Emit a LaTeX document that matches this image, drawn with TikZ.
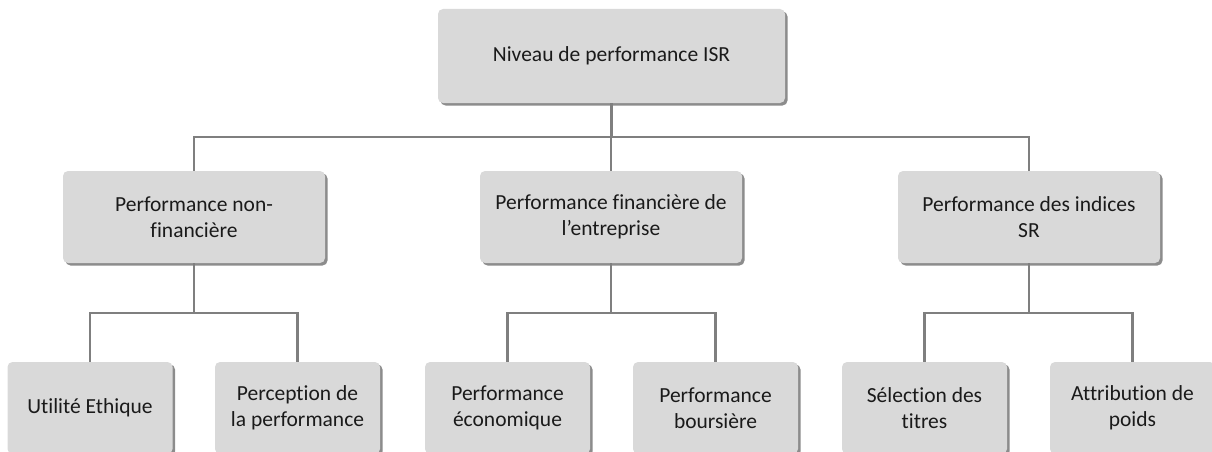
\documentclass[tikz,border=0pt]{standalone}
\usepackage{fontspec}
\setmainfont[RawFeature={-liga;-clig;-calt;-dlig}]{Carlito}
\usetikzlibrary{shadows,calc}
\definecolor{boxfill}{HTML}{D9D9D9}
\definecolor{linecol}{HTML}{7F7F7F}
\definecolor{shadecol}{HTML}{8C8C8C}
\definecolor{txtcol}{HTML}{1A1A1A}
\tikzset{
  box/.style={draw=none, fill=boxfill, rounded corners=5pt, align=center,
    text=txtcol, font=\fontsize{21.5}{25.5}\selectfont, inner sep=0pt,
    drop shadow={shadow xshift=2.5pt, shadow yshift=-2.5pt, fill=shadecol, opacity=1}},
  topbox/.style={box, minimum width=347pt, minimum height=94pt},
  midbox/.style={box, minimum width=262pt, minimum height=92pt},
  leafbox/.style={box, minimum width=165pt, minimum height=92pt},
  conn/.style={draw=linecol, line width=2.4pt}
}
\begin{document}
\begin{tikzpicture}[x=1pt,y=-1pt]
\useasboundingbox (0,0) rectangle (1212,452);
\node[topbox] (top) at (611.5,56) {Niveau de performance ISR};
\node[midbox] (a) at (194,217) {Performance non-\\financière};
\node[midbox] (b) at (611,217) {Performance financière de\\l’entreprise};
\node[midbox] (c) at (1029,217) {Performance des indices\\SR};
\node[leafbox] (a1) at (90,408) {Utilité Ethique};
\node[leafbox] (a2) at (297.5,408) {Perception de\\la performance};
\node[leafbox] (b1) at (507.5,408) {Performance\\économique};
\node[leafbox] (b2) at (715.5,408) {Performance\\boursière};
\node[leafbox] (c1) at (924.5,408) {Sélection des\\titres};
\node[leafbox] (c2) at (1132.5,408) {Attribution de\\poids};
\draw[conn] (top.south) -- ++(0,34) -| (a.north);
\draw[conn] (top.south) -- ++(0,34) -| (b.north);
\draw[conn] (top.south) -- ++(0,34) -| (c.north);
\draw[conn] (a.south) -- ++(0,50) -| (a1.north);
\draw[conn] (a.south) -- ++(0,50) -| (a2.north);
\draw[conn] (b.south) -- ++(0,50) -| (b1.north);
\draw[conn] (b.south) -- ++(0,50) -| (b2.north);
\draw[conn] (c.south) -- ++(0,50) -| (c1.north);
\draw[conn] (c.south) -- ++(0,50) -| (c2.north);
\end{tikzpicture}
\end{document}
